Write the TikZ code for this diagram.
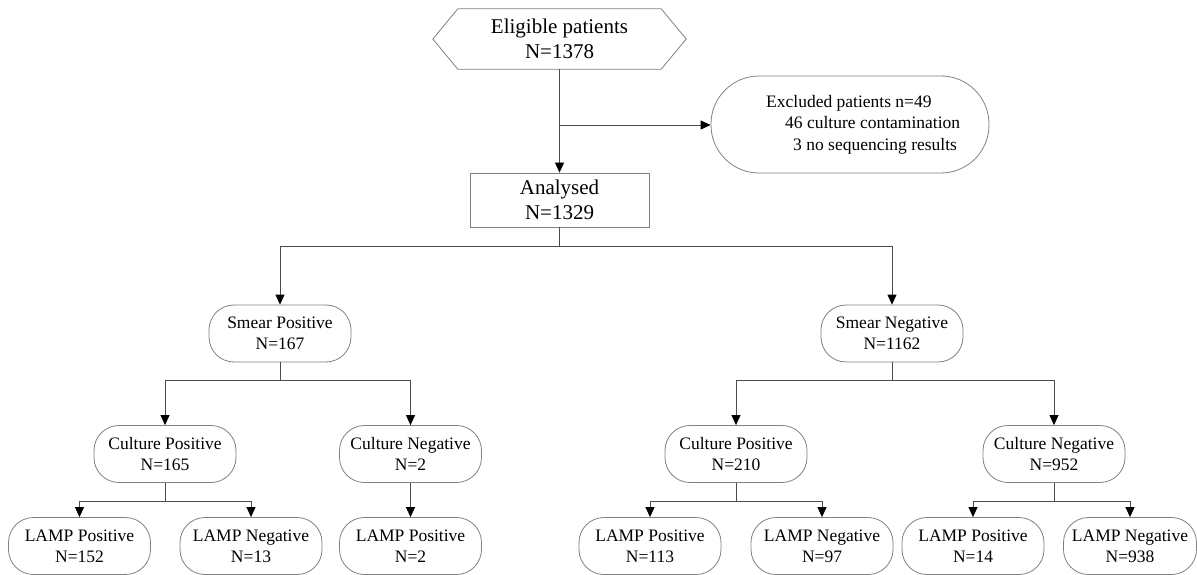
\documentclass[tikz,border=0pt]{standalone}
\usepackage{fontspec}
\setmainfont{Liberation Serif}
\usetikzlibrary{arrows.meta,calc}
\definecolor{boxgray}{gray}{0.5}
\definecolor{linegray}{gray}{0.3}
\begin{document}
\begin{tikzpicture}[x=1pt,y=-1pt,
  bigfont/.style={font=\fontsize{21}{25}\selectfont},
  box/.style={draw=boxgray,line width=0.8pt,rounded corners=25pt,minimum width=142pt,minimum height=57pt,inner sep=0pt,align=center,font=\fontsize{17.5}{21}\selectfont},
  arr/.style={draw=linegray,line width=0.8pt,-{Triangle[length=10pt,width=9pt,color=black]}}]
\useasboundingbox (0,0) rectangle (1197,575);
% top
\node[bigfont,minimum width=253pt,minimum height=60pt,inner sep=0pt,align=center] (elig) at (559.5,39) {Eligible patients\\N=1378};
\draw[boxgray,line width=0.8pt] (elig.west) -- ($(elig.north west)+(25,0)$) -- ($(elig.north east)+(-25,0)$) -- (elig.east) -- ($(elig.south east)+(-25,0)$) -- ($(elig.south west)+(25,0)$) -- cycle;
\node[bigfont,draw=boxgray,line width=0.8pt,minimum width=179pt,minimum height=54pt,inner sep=0pt,align=center] (anal) at (559.5,200) {Analysed\\N=1329};
\node[draw=boxgray,line width=0.8pt,rounded corners=48pt,minimum width=278pt,minimum height=97pt,inner sep=0pt] (excl) at (850,124.5) {};
\node[anchor=west,align=left,inner sep=0pt,font=\fontsize{17.5}{21.5}\selectfont] (exclt) at (766,124.5) {Excluded patients n=49\\\hspace*{19pt}46 culture contamination\\\hspace*{27pt}3 no sequencing results};
\coordinate (j1) at (559.5,125);
% second level
\node[box] (sp) at (280,333.5) {Smear Positive\\N=167};
\node[box] (sn) at (892,333.5) {Smear Negative\\N=1162};
% third level
\node[box] (cp1) at (165,454) {Culture Positive\\N=165};
\node[box] (cn1) at (410.5,454) {Culture Negative\\N=2};
\node[box] (cp2) at (736,454) {Culture Positive\\N=210};
\node[box] (cn2) at (1054,454) {Culture Negative\\N=952};
% fourth level
\node[box] (lp1) at (79.5,546) {LAMP Positive\\N=152};
\node[box] (ln1) at (251,546) {LAMP Negative\\N=13};
\node[box] (lp2) at (410.5,546) {LAMP Positive\\N=2};
\node[box] (lp3) at (650,546) {LAMP Positive\\N=113};
\node[box] (ln3) at (822,546) {LAMP Negative\\N=97};
\node[box] (lp4) at (973,546) {LAMP Positive\\N=14};
\node[box,minimum width=133pt] (ln4) at (1130,546) {LAMP Negative\\N=938};
% connectors
\draw[arr] (elig.south) -- (anal.north);
\draw[arr] (j1) -- (j1 -| excl.west);
\draw[arr] (anal.south) -- ++(0,19) -| (sp.north);
\draw[arr] (anal.south) -- ++(0,19) -| (sn.north);
\draw[arr] (sp.south) -- ++(0,18) -| (cp1.north);
\draw[arr] (sp.south) -- ++(0,18) -| (cn1.north);
\draw[arr] (sn.south) -- ++(0,18) -| (cp2.north);
\draw[arr] (sn.south) -- ++(0,18) -| (cn2.north);
\draw[arr] (cp1.south) -- ++(0,18) -| (lp1.north);
\draw[arr] (cp1.south) -- ++(0,18) -| (ln1.north);
\draw[arr] (cn1.south) -- (lp2.north);
\draw[arr] (cp2.south) -- ++(0,18) -| (lp3.north);
\draw[arr] (cp2.south) -- ++(0,18) -| (ln3.north);
\draw[arr] (cn2.south) -- ++(0,18) -| (lp4.north);
\draw[arr] (cn2.south) -- ++(0,18) -| (ln4.north);
\end{tikzpicture}
\end{document}
